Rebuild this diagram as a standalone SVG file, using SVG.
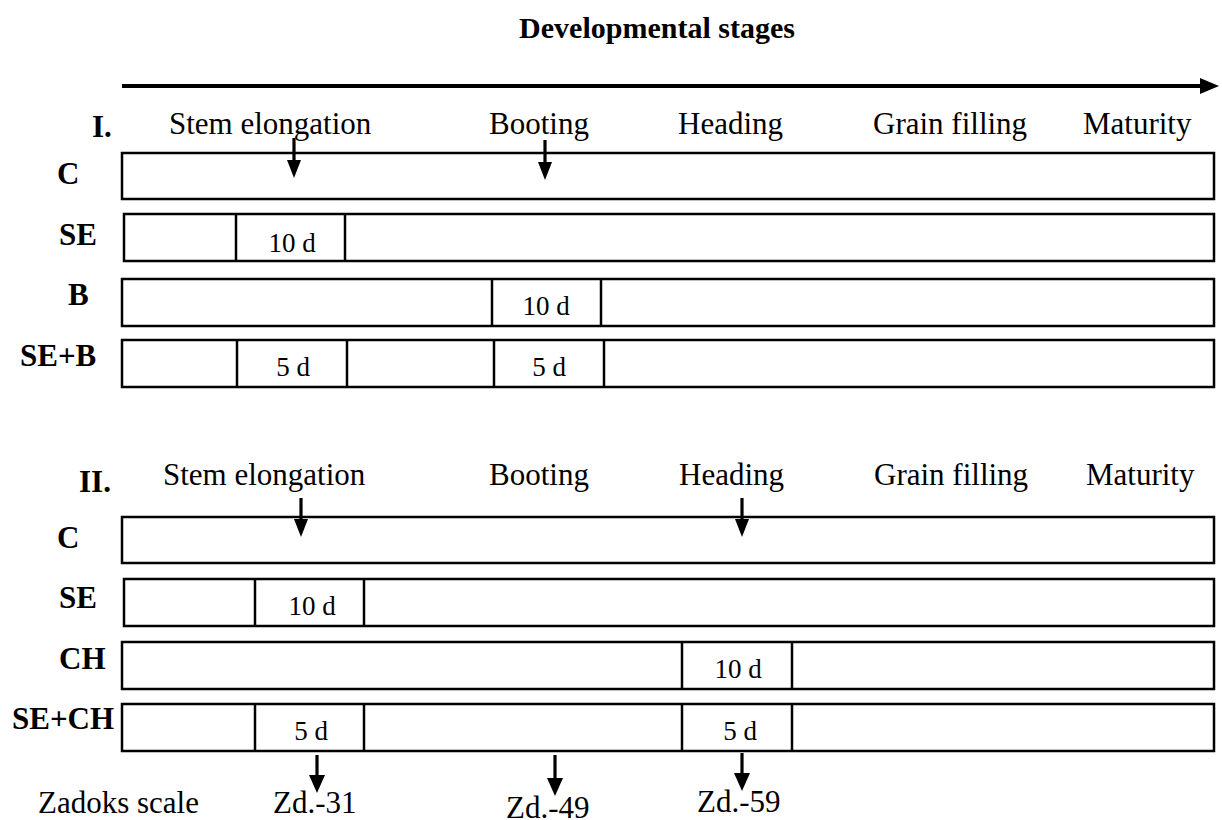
<svg xmlns="http://www.w3.org/2000/svg" width="1222" height="820" viewBox="0 0 1222 820">
<defs>
<style>
.t{font-family:"Liberation Serif","Times New Roman",serif;font-size:31px;fill:#000}
.b{font-family:"Liberation Serif","Times New Roman",serif;font-size:31px;font-weight:bold;fill:#000}
.h{font-family:"Liberation Serif","Times New Roman",serif;font-size:30px;font-weight:bold;fill:#000}
.d{font-family:"Liberation Serif","Times New Roman",serif;font-size:27px;fill:#000}
.r{fill:#fff;stroke:#000;stroke-width:2.5}
.v{stroke:#000;stroke-width:2.5}
.sh{stroke:#000;stroke-width:3.2;fill:none}
.hd{fill:#000}
</style>
</defs>
<rect width="1222" height="820" fill="#fff"/>
<g id="title">
<text class="h" x="657" y="38" text-anchor="middle">Developmental stages</text>
</g>
<g id="timeline">
<line x1="122" y1="86" x2="1202" y2="86" stroke="#000" stroke-width="4"/>
<polygon points="1200,78 1219,86 1200,94" fill="#000"/>
</g>
<g id="stages-I">
<text class="b" x="92" y="137">I.</text>
<text class="t" x="169" y="134">Stem elongation</text>
<text class="t" x="489" y="134">Booting</text>
<text class="t" x="678" y="134">Heading</text>
<text class="t" x="873" y="134">Grain filling</text>
<text class="t" x="1083" y="134">Maturity</text>
</g>
<g id="row-I-C">
<text class="b" x="57" y="184">C</text>
<rect class="r" x="122" y="153" width="1092" height="46"/>
</g>
<g id="row-I-SE">
<text class="b" x="59" y="245">SE</text>
<rect class="r" x="124" y="214" width="1090" height="47"/>
<line class="v" x1="236" y1="214" x2="236" y2="261"/>
<line class="v" x1="345" y1="214" x2="345" y2="261"/>
<text class="d" x="292" y="252" text-anchor="middle">10 d</text>
</g>
<g id="row-I-B">
<text class="b" x="68" y="305">B</text>
<rect class="r" x="122" y="279" width="1092" height="47"/>
<line class="v" x1="492" y1="279" x2="492" y2="326"/>
<line class="v" x1="601" y1="279" x2="601" y2="326"/>
<text class="d" x="546" y="315" text-anchor="middle">10 d</text>
</g>
<g id="row-I-SEB">
<text class="b" x="20" y="366">SE+B</text>
<rect class="r" x="122" y="340" width="1092" height="47"/>
<line class="v" x1="237" y1="340" x2="237" y2="387"/>
<line class="v" x1="347" y1="340" x2="347" y2="387"/>
<line class="v" x1="494" y1="340" x2="494" y2="387"/>
<line class="v" x1="604" y1="340" x2="604" y2="387"/>
<text class="d" x="293" y="376" text-anchor="middle">5 d</text>
<text class="d" x="549" y="376" text-anchor="middle">5 d</text>
</g>
<g id="stages-II">
<text class="b" x="79" y="492">II.</text>
<text class="t" x="163" y="485">Stem elongation</text>
<text class="t" x="489" y="485">Booting</text>
<text class="t" x="679" y="485">Heading</text>
<text class="t" x="874" y="485">Grain filling</text>
<text class="t" x="1086" y="485">Maturity</text>
</g>
<g id="row-II-C">
<text class="b" x="57" y="548">C</text>
<rect class="r" x="122" y="517" width="1092" height="46"/>
</g>
<g id="row-II-SE">
<text class="b" x="59" y="608">SE</text>
<rect class="r" x="124" y="579" width="1090" height="47"/>
<line class="v" x1="255" y1="579" x2="255" y2="626"/>
<line class="v" x1="364" y1="579" x2="364" y2="626"/>
<text class="d" x="312" y="615" text-anchor="middle">10 d</text>
</g>
<g id="row-II-CH">
<text class="b" x="59" y="669">CH</text>
<rect class="r" x="122" y="642" width="1092" height="47"/>
<line class="v" x1="682" y1="642" x2="682" y2="689"/>
<line class="v" x1="792" y1="642" x2="792" y2="689"/>
<text class="d" x="738" y="678" text-anchor="middle">10 d</text>
</g>
<g id="row-II-SECH">
<text class="b" x="12" y="729">SE+CH</text>
<rect class="r" x="122" y="704" width="1092" height="47"/>
<line class="v" x1="255" y1="704" x2="255" y2="751"/>
<line class="v" x1="364" y1="704" x2="364" y2="751"/>
<line class="v" x1="682" y1="704" x2="682" y2="751"/>
<line class="v" x1="792" y1="704" x2="792" y2="751"/>
<text class="d" x="311" y="740" text-anchor="middle">5 d</text>
<text class="d" x="740" y="740" text-anchor="middle">5 d</text>
</g>
<g id="zadoks">
<text class="t" x="38" y="813">Zadoks scale</text>
<text class="t" x="273" y="813">Zd.-31</text>
<text class="t" x="506" y="818">Zd.-49</text>
<text class="t" x="697" y="812">Zd.-59</text>
</g>
<g id="connectors">
<line class="sh" x1="294" y1="138" x2="294" y2="162"/>
<polygon class="hd" points="287,160 301,160 294,178"/>
<line class="sh" x1="545" y1="140" x2="545" y2="164"/>
<polygon class="hd" points="538,162 552,162 545,180"/>
<line class="sh" x1="301" y1="498" x2="301" y2="521"/>
<polygon class="hd" points="294,519 308,519 301,537"/>
<line class="sh" x1="742" y1="498" x2="742" y2="521"/>
<polygon class="hd" points="735,519 749,519 742,537"/>
<line class="sh" x1="317" y1="755" x2="317" y2="777"/>
<polygon class="hd" points="309,775 325,775 317,793"/>
<line class="sh" x1="555" y1="755" x2="555" y2="780"/>
<polygon class="hd" points="547,778 563,778 555,796"/>
<line class="sh" x1="742" y1="753" x2="742" y2="775"/>
<polygon class="hd" points="734,773 750,773 742,791"/>
</g>
</svg>
